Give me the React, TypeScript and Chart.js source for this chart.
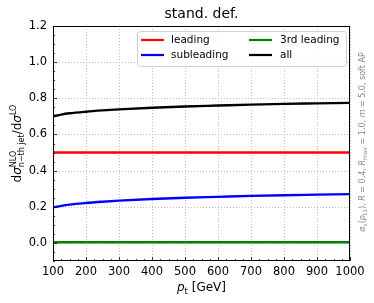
import React, { useEffect, useRef } from "react";
import { Chart, registerables } from "chart.js";
Chart.register(...registerables);

const ptValues = [100, 125, 150, 200, 250, 300, 400, 500, 600, 700, 800, 900, 1000];
const leading = [0.5, 0.5, 0.5, 0.5, 0.5, 0.5, 0.5, 0.5, 0.5, 0.5, 0.5, 0.5, 0.5];
const subleading = [0.196, 0.205, 0.212, 0.221, 0.228, 0.234, 0.243, 0.25, 0.255, 0.26, 0.264, 0.267, 0.27];
const thirdLeading = [0.004, 0.004, 0.004, 0.004, 0.004, 0.004, 0.004, 0.004, 0.004, 0.004, 0.004, 0.004, 0.004];
const allJets = [0.7, 0.71, 0.717, 0.726, 0.733, 0.739, 0.748, 0.755, 0.76, 0.765, 0.769, 0.772, 0.775];
const yTicks = [0, 0.2, 0.4, 0.6, 0.8, 1.0, 1.2];
const xTicks = [100, 200, 300, 400, 500, 600, 700, 800, 900, 1000];
const seriesNames = ["leading", "subleading", "3rd leading", "all"];
const seriesColors = ["#ff0000", "#0000ff", "#008000", "#000000"];
const titleText = "stand. def.";

const FF = "'DejaVu Sans', sans-serif";

type Seg = { t: string; size: number; dy?: number; italic?: boolean; stackNext?: boolean };

function segWidth(ctx: CanvasRenderingContext2D, segs: Seg[]) {
  let w = 0;
  let stackW = 0;
  for (const s of segs) {
    ctx.font = `${s.italic ? "italic " : ""}${s.size}px ${FF}`;
    const sw = ctx.measureText(s.t).width;
    if (s.stackNext) {
      stackW = sw;
    } else {
      w += Math.max(sw, stackW);
      stackW = 0;
    }
  }
  return w;
}

function drawSegs(ctx: CanvasRenderingContext2D, segs: Seg[], x: number, y: number) {
  let cx = x;
  let stackW = 0;
  ctx.textBaseline = "alphabetic";
  ctx.textAlign = "left";
  for (const s of segs) {
    ctx.font = `${s.italic ? "italic " : ""}${s.size}px ${FF}`;
    ctx.fillText(s.t, cx, y + (s.dy || 0));
    const sw = ctx.measureText(s.t).width;
    if (s.stackNext) {
      stackW = sw;
    } else {
      cx += Math.max(sw, stackW);
      stackW = 0;
    }
  }
}

const decorPlugin = {
  id: "decor",
  beforeDatasetsDraw(chart: any) {
    const { ctx, chartArea: a, scales } = chart;
    const xs = scales.x;
    const ys = scales.y;
    ctx.save();
    ctx.strokeStyle = "#b0b0b0";
    ctx.lineWidth = 0.8;
    ctx.setLineDash([1, 2]);
    for (const v of xTicks) {
      const px = Math.round(xs.getPixelForValue(v)) + 0.5;
      ctx.beginPath();
      ctx.moveTo(px, a.top);
      ctx.lineTo(px, a.bottom);
      ctx.stroke();
    }
    for (const v of yTicks) {
      const py = Math.round(ys.getPixelForValue(v)) + 0.5;
      ctx.beginPath();
      ctx.moveTo(a.left, py);
      ctx.lineTo(a.right, py);
      ctx.stroke();
    }
    ctx.restore();
  },
  afterDatasetsDraw(chart: any) {
    const { ctx, chartArea: a, scales } = chart;
    const xs = scales.x;
    const ys = scales.y;
    ctx.save();
    ctx.strokeStyle = "#000";
    ctx.lineWidth = 0.8;
    ctx.setLineDash([]);
    for (let v = 100; v <= 1000; v += 25) {
      const px = Math.round(xs.getPixelForValue(v)) + 0.5;
      const len = v % 100 === 0 ? 4 : 2;
      ctx.beginPath();
      ctx.moveTo(px, a.bottom);
      ctx.lineTo(px, a.bottom - len);
      ctx.stroke();
    }
    for (let i = -2; i <= 24; i++) {
      const v = i * 0.05;
      const py = Math.round(ys.getPixelForValue(v)) + 0.5;
      const len = i % 4 === 0 ? 4 : 2;
      ctx.beginPath();
      ctx.moveTo(a.left, py);
      ctx.lineTo(a.left + len, py);
      ctx.stroke();
    }
    ctx.lineWidth = 1;
    ctx.strokeRect(a.left + 0.5, a.top + 0.5, a.right - a.left - 1, a.bottom - a.top - 1);

    // legend
    const lx = 137, ly = 31, lw = 209, lh = 35;
    ctx.fillStyle = "rgba(255,255,255,0.85)";
    ctx.strokeStyle = "#d0d0d0";
    ctx.lineWidth = 1;
    ctx.beginPath();
    (ctx as any).roundRect(lx + 0.5, ly + 0.5, lw, lh, 3);
    ctx.fill();
    ctx.stroke();
    const cols = [
      { lineX: 141, textX: 171 },
      { lineX: 249, textX: 280 },
    ];
    const rows = [40, 55];
    seriesNames.forEach((n, i) => {
      const c = cols[Math.floor(i / 2)];
      const r = rows[i % 2];
      ctx.strokeStyle = seriesColors[i];
      ctx.lineWidth = 2.2;
      ctx.beginPath();
      ctx.moveTo(c.lineX, r);
      ctx.lineTo(c.lineX + 23, r);
      ctx.stroke();
      ctx.fillStyle = "#000";
      ctx.font = `10.5px ${FF}`;
      ctx.textBaseline = "middle";
      ctx.textAlign = "left";
      ctx.fillText(n, c.textX, r);
    });

    // title
    ctx.fillStyle = "#000";
    ctx.font = `14px ${FF}`;
    ctx.textAlign = "center";
    ctx.textBaseline = "alphabetic";
    ctx.fillText(titleText, (a.left + a.right) / 2, 18);

    // x label
    const xl: Seg[] = [
      { t: "p", size: 12, italic: true },
      { t: "t", size: 8.5, dy: 2.5 },
      { t: " [GeV]", size: 12 },
    ];
    const xw = segWidth(ctx, xl);
    drawSegs(ctx, xl, (a.left + a.right) / 2 - xw / 2, 291);

    // y label
    const yl: Seg[] = [
      { t: "d", size: 12 },
      { t: "σ", size: 12, italic: true },
      { t: "NLO", size: 8, dy: -5, stackNext: true },
      { t: "n−th jet", size: 8, dy: 3 },
      { t: "/d", size: 12 },
      { t: "σ", size: 12, italic: true },
      { t: "LO", size: 8, dy: -5 },
    ];
    const yw = segWidth(ctx, yl);
    ctx.save();
    ctx.translate(21, (a.top + a.bottom) / 2);
    ctx.rotate(-Math.PI / 2);
    drawSegs(ctx, yl, -yw / 2, 0);
    ctx.restore();

    // right side annotation
    ctx.fillStyle = "#8a8a8a";
    const rl: Seg[] = [
      { t: "α", size: 8, italic: true },
      { t: "s", size: 6, dy: 1.5, italic: true },
      { t: "(", size: 8 },
      { t: "p", size: 8, italic: true },
      { t: "t1", size: 6, dy: 1.5 },
      { t: "), ", size: 8 },
      { t: "R", size: 8, italic: true },
      { t: " = 0.4, ", size: 8 },
      { t: "R", size: 8, italic: true },
      { t: "max", size: 6, dy: 1.5 },
      { t: " = 1.0, ", size: 8 },
      { t: "m", size: 8, italic: true },
      { t: " = 5.0, soft AP", size: 8 },
    ];
    const rw = segWidth(ctx, rl);
    ctx.save();
    ctx.translate(365, 142);
    ctx.rotate(-Math.PI / 2);
    drawSegs(ctx, rl, -rw / 2, 0);
    ctx.restore();

    ctx.restore();
  },
};

export default function App() {
  const ref = useRef<HTMLCanvasElement | null>(null);
  useEffect(() => {
    document.body.style.margin = "0";
    const canvas = ref.current!;
    const mk = (vals: number[]) => ptValues.map((x, i) => ({ x, y: vals[i] }));
    const chart = new Chart(canvas, {
      type: "line",
      data: {
        datasets: [
          { label: seriesNames[0], data: mk(leading), borderColor: seriesColors[0], borderWidth: 2.4, pointRadius: 0, fill: false },
          { label: "leading-ref", data: mk(leading), borderColor: "#000000", borderWidth: 0.8, borderDash: [3, 2], pointRadius: 0, fill: false },
          { label: seriesNames[1], data: mk(subleading), borderColor: seriesColors[1], borderWidth: 2.4, pointRadius: 0, fill: false, cubicInterpolationMode: "monotone" },
          { label: seriesNames[2], data: mk(thirdLeading), borderColor: seriesColors[2], borderWidth: 2.4, pointRadius: 0, fill: false },
          { label: seriesNames[3], data: mk(allJets), borderColor: seriesColors[3], borderWidth: 2.4, pointRadius: 0, fill: false, cubicInterpolationMode: "monotone" },
        ],
      },
      options: {
        animation: false,
        responsive: false,
        maintainAspectRatio: false,
        devicePixelRatio: 1,
        layout: { padding: { left: 0, right: 24, top: 26, bottom: 0 } },
        plugins: { legend: { display: false }, tooltip: { enabled: false }, title: { display: false } },
        scales: {
          x: {
            type: "linear",
            min: 100,
            max: 1000,
            grid: { display: false, drawTicks: false },
            border: { display: false },
            afterFit: (s: any) => { s.height = 42; },
            afterBuildTicks: (s: any) => { s.ticks = xTicks.map((v) => ({ value: v })); },
            ticks: {
              autoSkip: false,
              maxRotation: 0,
              padding: 4,
              color: "#000",
              font: { family: FF, size: 11.5 },
              callback: (v: any) => String(v),
            },
          },
          y: {
            type: "linear",
            min: -0.1,
            max: 1.2,
            grid: { display: false, drawTicks: false },
            border: { display: false },
            afterFit: (s: any) => { s.width = 53; },
            afterBuildTicks: (s: any) => { s.ticks = yTicks.map((v) => ({ value: v })); },
            ticks: {
              autoSkip: false,
              padding: 6,
              color: "#000",
              font: { family: FF, size: 11.5 },
              callback: (v: any) => Number(v).toFixed(1),
            },
          },
        },
      },
      plugins: [decorPlugin],
    } as any);
    return () => chart.destroy();
  }, []);
  return (
    <div style={{ position: "fixed", left: 0, top: 0, width: 374, height: 303, background: "#fff" }}>
      <canvas ref={ref} width={374} height={303} style={{ width: 374, height: 303, display: "block" }} />
    </div>
  );
}
